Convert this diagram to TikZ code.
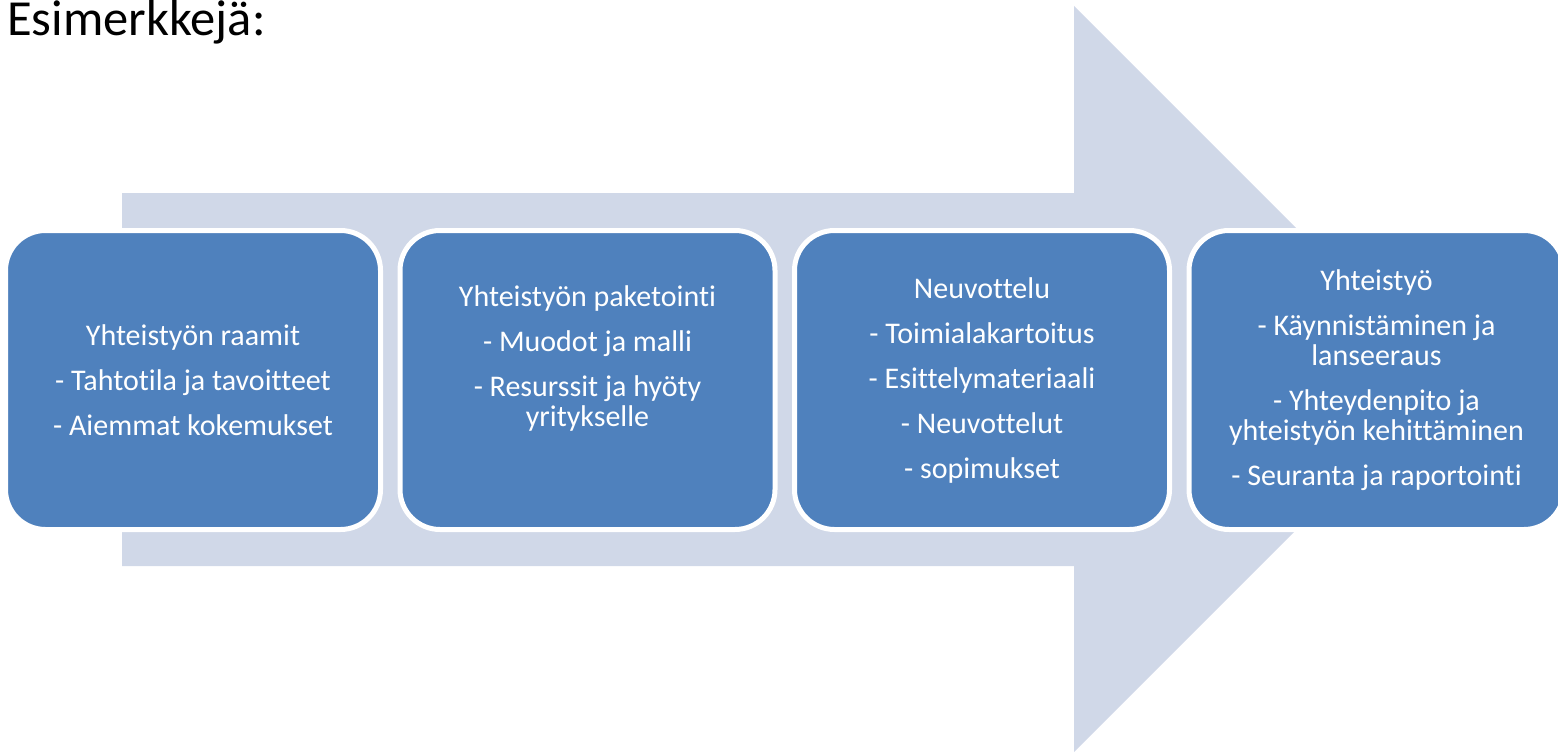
\documentclass[tikz,border=0pt]{standalone}
\usepackage{fontspec}
\setmainfont{Carlito}[RawFeature={-liga}]
\definecolor{boxblue}{HTML}{4F81BD}
\definecolor{arrowgrey}{HTML}{D0D8E8}
\begin{document}
\begin{tikzpicture}[x=1pt,y=-1pt,
  stagebox/.style={draw=white,line width=5pt,fill=boxblue,rounded corners=40pt},
  stagetext/.style={text=white,align=center,inner sep=0pt,font=\fontsize{30}{30}\selectfont},
  bigarrow/.style={fill=arrowgrey,draw=none}]
\useasboundingbox (0,0) rectangle (1558,752);
% big background arrow
\fill[bigarrow] (122,193) -- (1074,193) -- (1074,6) -- (1447,379) -- (1074,752) -- (1074,566) -- (122,566) -- cycle;
% title
\node[anchor=base west,inner sep=0pt,font=\fontsize{50.5}{58}\selectfont] (title) at (7,36) {Esimerkkejä:};
% boxes
\foreach \i/\nm in {0/b1,1/b2,2/b3,3/b4}{
  \path[stagebox] ({5.5+394.5*\i},230.5) rectangle ({380.5+394.5*\i},529.5);
  \coordinate (\nm) at ({193+394.5*\i},380);
}
\node[stagetext] (t1) at (193,380) {Yhteistyön raamit\\[15pt]- Tahtotila ja tavoitteet\\[15pt]- Aiemmat kokemukset};
\node[stagetext] (t2) at (587.5,358) {Yhteistyön paketointi\\[15pt]- Muodot ja malli\\[15pt]- Resurssit ja hyöty\\yritykselle};
\node[stagetext] (t3) at (982,380) {Neuvottelu\\[15pt]- Toimialakartoitus\\[15pt]- Esittelymateriaali\\[15pt]- Neuvottelut\\[15pt]- sopimukset};
\node[stagetext] (t4) at (1376.5,380) {Yhteistyö\\[15pt]- Käynnistäminen ja\\lanseeraus\\[15pt]- Yhteydenpito ja\\yhteistyön kehittäminen\\[15pt]- Seuranta ja raportointi};
\end{tikzpicture}
\end{document}
